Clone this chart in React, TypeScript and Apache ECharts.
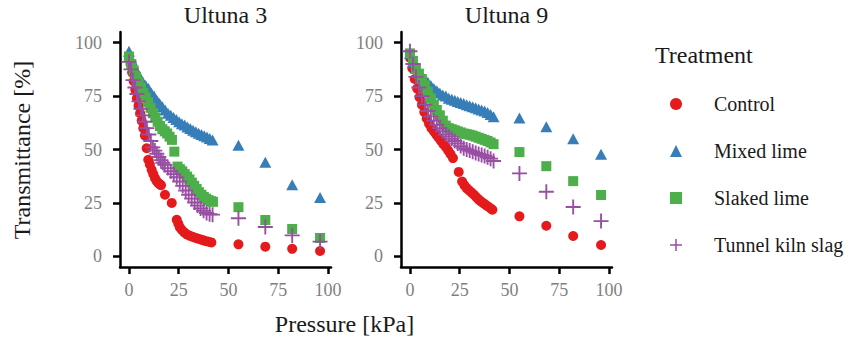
import { useEffect, useRef } from "react";
import * as echarts from "echarts";

const facets = ["Ultuna 3", "Ultuna 9"];
const treatments = ["Control", "Mixed lime", "Slaked lime", "Tunnel kiln slag"];
const colors = ["#E41A1C", "#377EB8", "#4DAF4A", "#984EA3"];
const xTicks = [0, 25, 50, 75, 100];
const yTicks = [0, 25, 50, 75, 100];

// [pressure kPa, transmittance %]
const u3Control = [[0,93],[0.8,90],[1.6,86],[2.4,82],[3.2,78],[4,74],[4.8,70.5],[5.6,67],[6.4,63.5],[7.2,60],[8,56.5],[8.9,50.6],[9.7,45.2],[10.5,43],[11.4,40.5],[12.2,38.5],[13.1,36.6],[13.9,35.2],[14.7,34.3],[15.4,33.8],[16.1,33.3],[18.1,28.8],[21.5,25],[24,17.1],[24.8,15.2],[25.6,13.5],[26.6,12.3],[27.8,11.2],[29,10.3],[30.4,9.7],[31.8,9.2],[33.2,8.7],[34.6,8.3],[36,7.9],[37.4,7.5],[38.8,7.1],[40.1,6.8],[41.4,6.5],[55,5.6],[68.5,4.5],[82,3.5],[96,2.5]];
const u3Mixed = [[0,96],[1.4,92],[2.8,88.5],[4.2,86],[5.6,83.5],[7,81.5],[8.4,80],[9.8,78.5],[11.2,76.5],[12.6,75],[14,73],[15.4,71.5],[16.8,70],[18.2,68.5],[19.6,67],[21,66],[22.4,65],[23.8,64],[25.2,63],[26.6,62],[28,61.5],[29.4,60.5],[30.8,59.8],[32.2,59],[33.6,58.3],[35,57.6],[36.4,57],[37.8,56.4],[39.2,55.8],[40.6,55.2],[42,54.5],[55,52],[68.5,44],[82,33.5],[96,27.5]];
const u3Slaked = [[0,93.5],[1.2,90],[2.4,87],[3.6,84],[4.8,81.5],[6,79],[7.2,76.5],[8.4,74.5],[9.6,72],[10.8,69.5],[12,67],[13.2,65],[14.4,63],[15.6,61],[16.8,59.5],[18,58.5],[19.2,57.5],[20.4,56],[21.6,54.5],[22.8,49],[24.4,42],[25.6,40.8],[26.8,39.8],[28,38.5],[29.2,37.3],[30.4,36],[31.6,34.5],[32.8,33],[34,31.5],[35.2,30],[36.4,28.8],[37.6,27.8],[38.8,27],[40,26.3],[41.2,25.8],[42.2,25.5],[55,23],[68.5,17],[82,12.8],[96,8.6]];
const u3Tunnel = [[0,91],[1,87.5],[2,82.5],[3,79],[4,76],[5,72.5],[6,69],[7,66],[8,63],[9,60],[10,57],[11,54],[12,51],[13,49.5],[14,48],[15,46.5],[16,45],[17,43.8],[18,42.8],[19.5,41.3],[21,39.8],[22.5,38.5],[24,37],[25.5,35],[27,33],[28.5,30.8],[30,28.8],[31.5,27],[33,25.2],[34.5,23.7],[36,22.4],[37.5,21.3],[39,20.3],[40.5,19.7],[42,19.5],[55,17.8],[68.5,13.7],[82,9.8],[96,6.9]];

const u9Control = [[0,93],[1.2,88],[2.4,83],[3.6,78.5],[4.8,74.5],[6,71],[7.2,67.5],[8.4,64.5],[9.6,62],[10.8,60],[12,58.5],[13.2,57],[14.4,55.5],[15.6,54],[16.8,52.5],[18,51.2],[19.2,49.5],[20.4,47.8],[21.6,46],[24.5,39.5],[26.2,35],[27.4,33.2],[28.6,31.8],[29.8,30.8],[31,29.8],[32.2,28.8],[33.4,27.6],[34.6,26.5],[35.8,25.6],[37,24.8],[38.2,24],[39.4,23.2],[40.6,22.4],[41.4,21.8],[55,18.7],[68.5,14.3],[82,9.5],[96,5.3]];
const u9Mixed = [[0,95],[1.5,91],[3,88],[4.5,86],[6,84.5],[7.5,83],[9,81.5],[10.5,80],[12,78.5],[13.5,77.5],[15,76.5],[16.5,75.5],[18,75],[19.5,74],[21,73.5],[22.5,73],[24,72.5],[25.5,72],[27,71.5],[28.5,71],[30,70.5],[31.5,70],[33,69.5],[34.5,69],[36,68.5],[37.5,68],[39,67.3],[40.5,66.4],[42,65.3],[55,64.7],[68.5,60.7],[82,55],[96,47.8]];
const u9Slaked = [[0,95],[1.5,91.5],[3,88],[4.5,85.5],[6,83],[7.5,80],[9,77],[10.5,74],[12,71],[13.5,68.5],[15,66],[16.5,63.5],[18,61.2],[19.5,60],[21,59.5],[22.5,59],[24,58.5],[25.5,58],[27,57.5],[28.5,57.2],[30,56.9],[31.5,56.5],[33,56],[34.5,55.5],[36,55],[37.5,54.5],[39,54],[40.5,53.3],[42,52.5],[55,48.8],[68.5,42.2],[82,35.2],[96,28.7]];
const u9Tunnel = [[0,96],[1.5,90],[3,84],[4.5,79],[6,75],[7.5,71],[9,68],[10.5,65.5],[12,63.5],[13.5,61.5],[15,60],[16.5,58.5],[18,57],[19.5,56],[21,55],[22.5,54],[24,52.8],[25.5,51.6],[27,50.6],[28.5,50],[30,49.5],[31.5,49],[33,48.4],[34.5,47.9],[36,47.4],[37.5,47],[39,46.4],[40.5,45.7],[42,44.6],[55,38.8],[68.5,30.2],[82,23.1],[96,16.5]];

const facetData = [
  [u3Control, u3Mixed, u3Slaked, u3Tunnel],
  [u9Control, u9Mixed, u9Slaked, u9Tunnel],
];

const PLUS = "path://M7,0H9V7H16V9H9V16H7V9H0V7H7Z";
const symbols = ["circle", "triangle", "rect", PLUS];
const symbolSizes: any[] = [10, [12, 11], 10, 15];

const FONT = "'Liberation Serif', 'Times New Roman', Times, serif";
const gridLefts = [120, 401];

export default function App() {
  const ref = useRef<HTMLDivElement>(null);
  useEffect(() => {
    if (!ref.current) return;
    const chart = echarts.init(ref.current, null, { renderer: "svg" });
    const axisLine = { show: true, onZero: false, lineStyle: { color: "#000", width: 2.5 } };
    const xAxis = facets.map((_, i) => ({
      gridIndex: i,
      type: "value",
      min: -4.5,
      max: 101.5,
      axisLine,
      axisTick: { show: true, length: 7, customValues: xTicks, lineStyle: { color: "#000", width: 2.5 } },
      axisLabel: { customValues: xTicks, color: "#7f7f7f", fontSize: 18, fontFamily: FONT, margin: 14 },
      splitLine: { show: false },
    }));
    const yAxis = facets.map((_, i) => ({
      gridIndex: i,
      type: "value",
      min: -5,
      max: 105,
      axisLine,
      axisTick: { show: true, length: 7, customValues: yTicks, lineStyle: { color: "#000", width: 2.5 } },
      axisLabel: { customValues: yTicks, color: "#7f7f7f", fontSize: 18, fontFamily: FONT, margin: 18 },
      splitLine: { show: false },
    }));
    const series: any[] = [];
    facets.forEach((_, f) => {
      treatments.forEach((t, k) => {
        series.push({
          type: "scatter",
          name: t,
          xAxisIndex: f,
          yAxisIndex: f,
          data: facetData[f][k],
          symbol: symbols[k],
          symbolSize: symbolSizes[k],
          itemStyle: { color: colors[k], opacity: 1 },
          z: 2 + k,
          silent: true,
        });
      });
    });
    const textStyle = { fontFamily: FONT, fill: "#1a1a1a", fontSize: 24 };
    chart.setOption({
      animation: false,
      backgroundColor: "#fff",
      grid: gridLefts.map((l) => ({ left: l, top: 32, width: 211, height: 235 })),
      xAxis,
      yAxis,
      legend: {
        orient: "vertical",
        left: 665,
        top: 89,
        itemWidth: 12,
        itemHeight: 12,
        itemGap: 27,
        selectedMode: false,
        data: treatments,
        textStyle: { fontFamily: FONT, fontSize: 20, color: "#1a1a1a", padding: [0, 0, 0, 27], lineHeight: 20 },
      },
      graphic: [
        { type: "text", x: 225.5, y: 15, style: { ...textStyle, text: facets[0], align: "center", verticalAlign: "middle" } },
        { type: "text", x: 506.5, y: 15, style: { ...textStyle, text: facets[1], align: "center", verticalAlign: "middle" } },
        { type: "text", x: 344.5, y: 324, style: { ...textStyle, text: "Pressure [kPa]", align: "center", verticalAlign: "middle" } },
        { type: "text", x: 22, y: 150, rotation: Math.PI / 2, style: { ...textStyle, text: "Transmittance [%]", align: "center", verticalAlign: "middle" } },
        { type: "text", x: 655, y: 55, style: { ...textStyle, text: "Treatment", align: "left", verticalAlign: "middle" } },
      ],
      series,
    });
    return () => chart.dispose();
  }, []);
  return <div ref={ref} style={{ position: "fixed", left: 0, top: 0, width: 857, height: 339 }} />;
}
